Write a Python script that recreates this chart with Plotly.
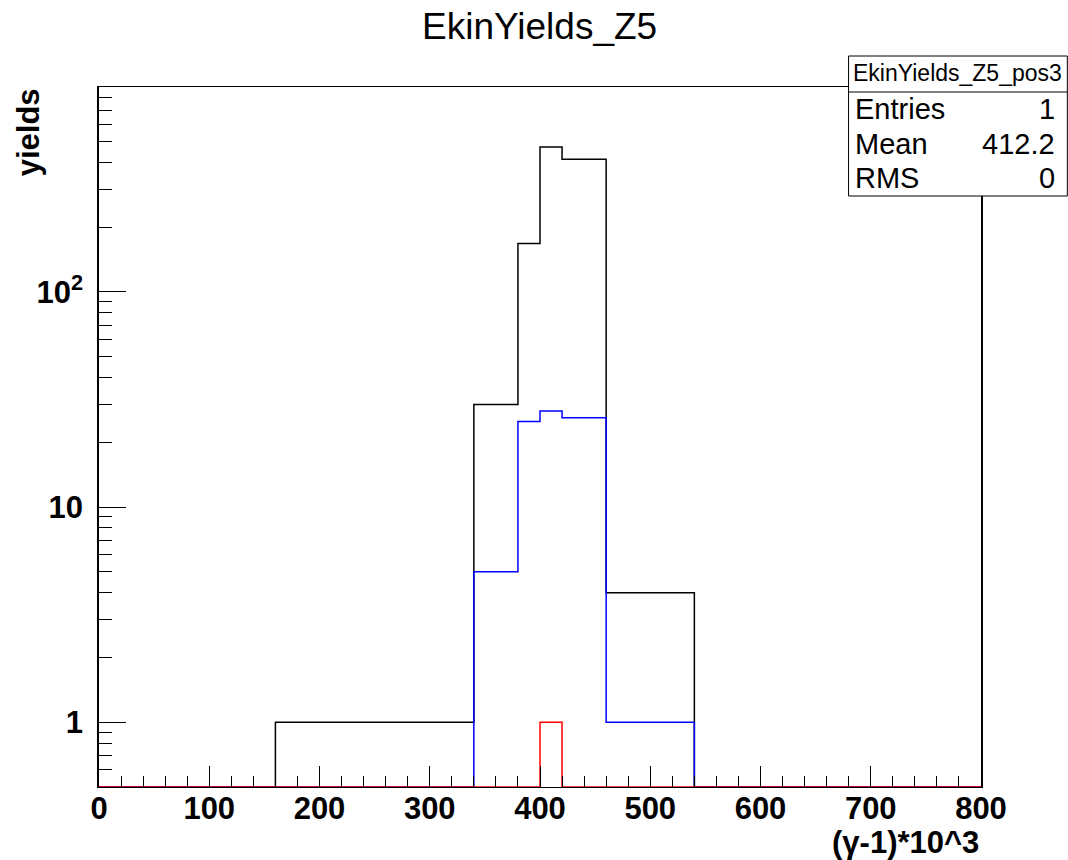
import math
import plotly.graph_objects as go

# ---- data ----
bin_edges = [0, 160, 340, 380, 400, 420, 460, 540, 800]
yields_black = [0, 1, 30, 168, 472, 414, 4, 0]
yields_blue = [0, 0, 5, 25, 28, 26, 1, 0]
yields_red = [0, 0, 0, 0, 1, 0, 0, 0]

x_tick_vals = [0, 100, 200, 300, 400, 500, 600, 700, 800]
x_tick_text = ["0", "100", "200", "300", "400", "500", "600", "700", "800"]
y_tick_vals = [1, 10, 100]
y_tick_text = ["1", "10", "10<sup>2</sup>"]

stats_title = "EkinYields_Z5_pos3"
stats_labels = ["Entries", "Mean", "RMS"]
stats_values = ["1", "412.2", "0"]

Y_MIN, Y_MAX = 0.5, 897.0

# ---- geometry ----
W, H = 1068, 860
L, R, T, B = 99, 980.7, 86.7, 786.7
PW, PH = R - L, B - T


def px(x):
    return (x - L) / PW


def py(y):
    return (B - y) / PH


def step_trace(vals, color):
    ys = [max(v, Y_MIN) for v in vals]
    ys = ys + [ys[-1]]
    return go.Scatter(x=bin_edges, y=ys, mode="lines", line_shape="hv",
                      line=dict(color=color, width=1.5), hoverinfo="skip",
                      showlegend=False)


fig = go.Figure()
fig.add_trace(step_trace(yields_black, "#000000"))
fig.add_trace(step_trace(yields_blue, "#0000ff"))
fig.add_trace(step_trace(yields_red, "#ff0000"))

FONT = "Liberation Sans, Arial, Helvetica, sans-serif"

minor_x = [v for v in range(0, 801, 20) if v % 100 != 0]
minor_y = [0.6, 0.7, 0.8, 0.9] + [k for k in range(2, 10)] + \
    [10 * k for k in range(2, 10)] + [100 * k for k in range(2, 10)]

fig.update_layout(
    width=W, height=H,
    margin=dict(l=L, r=W - R, t=T, b=H - B, pad=0),
    paper_bgcolor="white", plot_bgcolor="white",
    font=dict(family=FONT, color="black"),
    xaxis=dict(
        range=[0, 800], showgrid=False, zeroline=False,
        showline=True, linecolor="black", linewidth=1, mirror=True,
        ticks="inside", ticklen=21, tickwidth=1, tickcolor="black",
        tickvals=x_tick_vals, ticktext=x_tick_text,
        tickfont=dict(family=FONT, size=31, color="black", weight="bold"),
        ticklabelstandoff=-6,
        minor=dict(tickvals=minor_x, ticks="inside", ticklen=11,
                   tickwidth=1, tickcolor="black", showgrid=False),
    ),
    yaxis=dict(
        type="log", range=[math.log10(Y_MIN), math.log10(Y_MAX)],
        showgrid=False, zeroline=False,
        showline=True, linecolor="black", linewidth=1.5, mirror=True,
        ticks="inside", ticklen=27, tickwidth=1, tickcolor="black",
        tickvals=y_tick_vals, ticktext=y_tick_text,
        tickfont=dict(family=FONT, size=31, color="black", weight="bold"),
        ticklabelstandoff=8,
        minor=dict(tickvals=minor_y, ticks="inside", ticklen=13,
                   tickwidth=1, tickcolor="black", showgrid=False),
    ),
)

annotations = []
# title
annotations.append(dict(text="EkinYields_Z5", x=px(539), y=py(26),
                        xref="paper", yref="paper", xanchor="center",
                        yanchor="middle", showarrow=False,
                        font=dict(family=FONT, size=37, color="black")))
# axis titles
annotations.append(dict(text="(γ-1)*10^3", x=1.0, y=py(842),
                        xref="paper", yref="paper", xanchor="right",
                        yanchor="middle", showarrow=False,
                        font=dict(family=FONT, size=31, color="black",
                                  weight="bold")))
annotations.append(dict(text="yields", x=px(28), y=py(86),
                        xref="paper", yref="paper", xanchor="center",
                        yanchor="top", textangle=-90, showarrow=False,
                        font=dict(family=FONT, size=31, color="black",
                                  weight="bold")))

# stats box
bx0, bx1, by0, by1, bsep = 848.3, 1067, 55.7, 195.7, 91.7
shapes = [
    dict(type="rect", xref="paper", yref="paper", x0=px(bx0), x1=px(bx1),
         y0=py(by1), y1=py(by0), line=dict(color="black", width=1),
         fillcolor="white", layer="above"),
    dict(type="line", xref="paper", yref="paper", x0=px(bx0), x1=px(bx1),
         y0=py(bsep), y1=py(bsep), line=dict(color="black", width=1),
         layer="above"),
]
annotations.append(dict(text=stats_title, x=px((bx0 + bx1) / 2), y=py(73),
                        xref="paper", yref="paper", xanchor="center",
                        yanchor="middle", showarrow=False,
                        font=dict(family=FONT, size=23, color="black")))
row_centers = [109, 143.5, 178]
for lab, val, yc in zip(stats_labels, stats_values, row_centers):
    annotations.append(dict(text=lab, x=px(853), y=py(yc), xref="paper",
                            yref="paper", xanchor="left", yanchor="middle",
                            showarrow=False,
                            font=dict(family=FONT, size=29, color="black")))
    annotations.append(dict(text=val, x=px(1057), y=py(yc), xref="paper",
                            yref="paper", xanchor="right", yanchor="middle",
                            showarrow=False,
                            font=dict(family=FONT, size=29, color="black")))

fig.update_layout(annotations=annotations, shapes=shapes)
fig.write_html("out.html")
